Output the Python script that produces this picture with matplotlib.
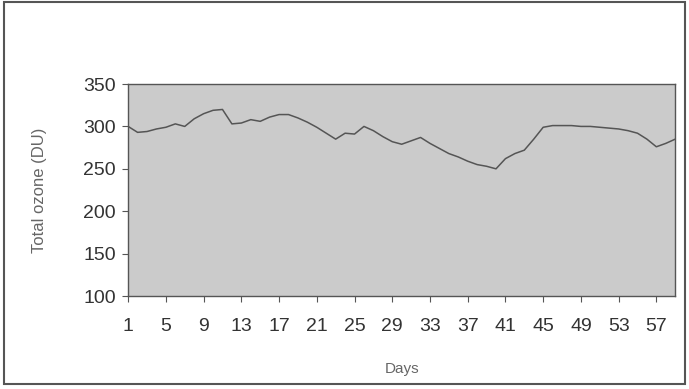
import numpy as np
import matplotlib.pyplot as plt
from matplotlib.patches import Rectangle

plt.rcParams["font.family"] = ["Liberation Sans", "DejaVu Sans"]

days = np.arange(1, 60)
ozone = [
    300, 293, 294, 297, 299, 303, 300, 309, 315, 319,
    320, 303, 304, 308, 306, 311, 314, 314, 310, 305,
    299, 292, 285, 292, 291, 300, 295, 288, 282, 279,
    283, 287, 280, 274, 268, 264, 259, 255, 253, 250,
    262, 268, 272, 285, 299, 301, 301, 301, 300, 300,
    299, 298, 297, 295, 292, 285, 276, 280, 285,
]
yticks = [100, 150, 200, 250, 300, 350]
xticks = list(range(1, 58, 4))

fig = plt.figure(figsize=(6.89, 3.89), dpi=100)
fig.patch.set_facecolor("white")
fig.patches.append(Rectangle((0.006, 0.012), 0.988, 0.982, transform=fig.transFigure,
                             fill=False, edgecolor="#555555", linewidth=1.5))

ax = fig.add_axes([0.186, 0.239, 0.794, 0.545])
ax.set_facecolor("#cbcbcb")
ax.plot(days, ozone, color="#555555", linewidth=1.1)

ax.set_xlim(1, 59)
ax.set_ylim(100, 350)
ax.set_xticks(xticks)
ax.set_yticks(yticks)
ax.tick_params(axis="both", direction="out", length=4, color="#555555",
               labelsize=14, labelcolor="#333333")
ax.tick_params(axis="y", pad=5)
ax.tick_params(axis="x", pad=12)
for s in ax.spines.values():
    s.set_color("#555555")
    s.set_linewidth(1)

ax.set_ylabel("Total ozone (DU)", fontsize=12, color="#666666", labelpad=26)
ax.set_xlabel("Days", fontsize=11, color="#666666", labelpad=19)

fig.savefig("out.png", dpi=100)
